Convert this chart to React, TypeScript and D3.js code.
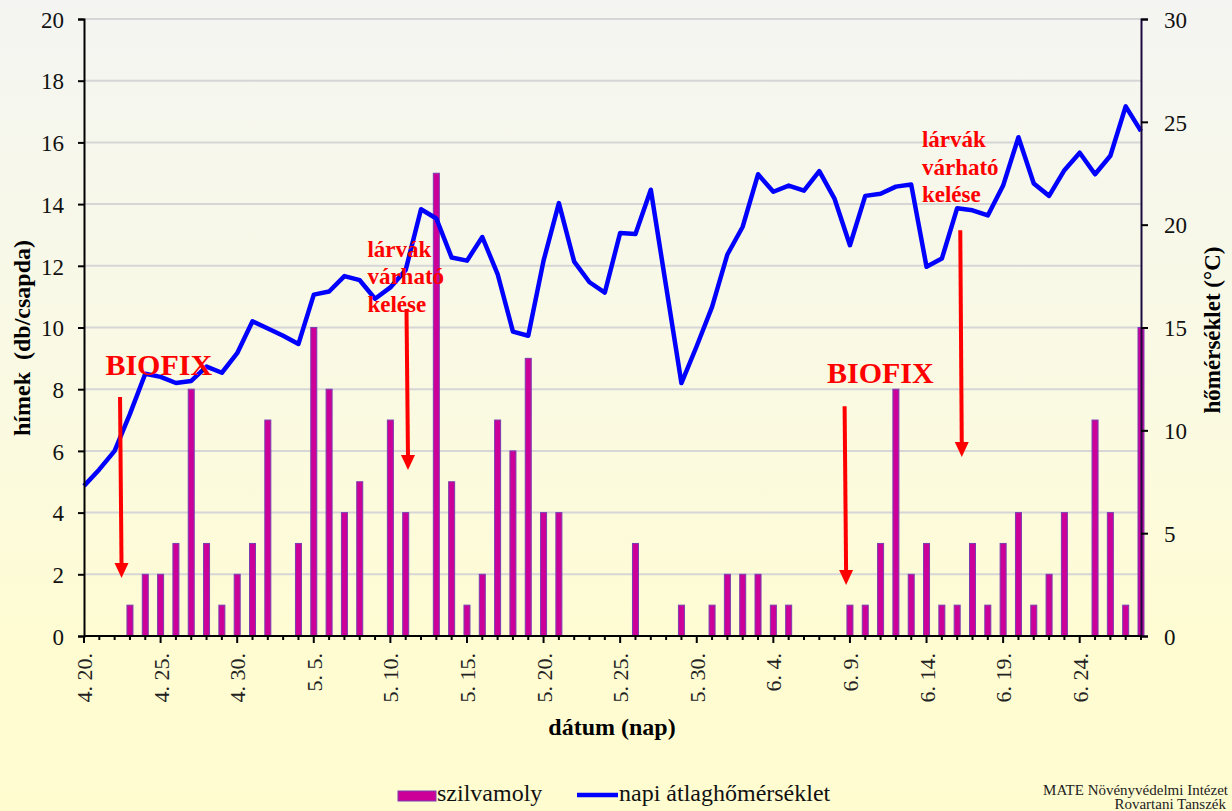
import React, { useEffect, useRef } from 'react';
import * as d3 from 'd3';

// daily male catches (db/csapda), 4.20. -> 6.28.
const catches = [
  0, 0, 0, 1, 2, 2, 3, 8, 3, 1, 2, 3, 7, 0, 3, 10, 8, 4, 5, 0,
  7, 4, 0, 15, 5, 1, 2, 7, 6, 9, 4, 4, 0, 0, 0, 0, 3, 0, 0, 1,
  0, 1, 2, 2, 2, 1, 1, 0, 0, 0, 1, 1, 3, 8, 2, 3, 1, 1, 3, 1,
  3, 4, 1, 2, 4, 0, 7, 4, 1, 10,
];

// napi átlaghőmérséklet (°C)
const temps = [
  7.3, 8.1, 9.0, 10.8, 12.75, 12.6, 12.3, 12.4, 13.1, 12.8, 13.75, 15.3, 14.95, 14.6, 14.2, 16.6, 16.75, 17.5, 17.3, 16.4,
  16.95, 17.8, 20.75, 20.3, 18.4, 18.25, 19.4, 17.6, 14.8, 14.6, 18.25, 21.05, 18.2, 17.2, 16.7, 19.6, 19.55, 21.7, 17.0, 12.3,
  14.1, 16.0, 18.55, 19.9, 22.45, 21.6, 21.9, 21.65, 22.6, 21.25, 19.0, 21.4, 21.5, 21.85, 21.95, 17.95, 18.35, 20.8, 20.7, 20.45,
  21.9, 24.25, 22.0, 21.4, 22.65, 23.5, 22.45, 23.35, 25.75, 24.55,
];

const monthStarts = [
  { month: 4, first: 20, last: 30 },
  { month: 5, first: 1, last: 31 },
  { month: 6, first: 1, last: 28 },
];
const days: string[] = [];
monthStarts.forEach(m => {
  for (let d = m.first; d <= m.last; d++) days.push(`${m.month}. ${d}.`);
});

const tickLabels = ['4. 20.', '4. 25.', '4. 30.', '5. 5.', '5. 10.', '5. 15.', '5. 20.', '5. 25.', '5. 30.', '6. 4.', '6. 9.', '6. 14.', '6. 19.', '6. 24.'];
const leftTicks = [0, 2, 4, 6, 8, 10, 12, 14, 16, 18, 20];
const rightTicks = [0, 5, 10, 15, 20, 25, 30];

// annotations: position by day index and catch value
const biofixNotes = [
  { text: 'BIOFIX', at: 1.4, y: 8.45, arrowAt: 2.45, from: 7.75, to: 1.88 },
  { text: 'BIOFIX', at: 48.5, y: 8.2, arrowAt: 49.75, from: 7.45, to: 1.65 },
];
const larvaNotes = [
  { lines: ['lárvák', 'várható', 'kelése'], at: 18.5, y: 12.3, arrowAt: 21.15, from: 10.6, to: 5.38 },
  { lines: ['lárvák', 'várható', 'kelése'], at: 54.7, y: 15.85, arrowAt: 57.3, from: 13.15, to: 5.8 },
];

const W = 1232, H = 811;
const serif = 'Liberation Serif, Times New Roman, DejaVu Serif, serif';

function App() {
  const ref = useRef<SVGSVGElement>(null);

  useEffect(() => {
    const svg = d3.select(ref.current);
    svg.selectAll('*').remove();

    const left = 84, right = 1141, top = 19, bottom = 636;

    const x = d3.scalePoint<string>().domain(days).range([left, right]);
    const xi = d3.scaleLinear().domain([0, days.length - 1]).range([left, right]);
    const yL = d3.scaleLinear().domain([0, 20]).range([bottom, top]);
    const yR = d3.scaleLinear().domain([0, 30]).range([bottom, top]);

    const defs = svg.append('defs');
    const grad = defs.append('linearGradient').attr('id', 'bg')
      .attr('x1', 0).attr('y1', 0).attr('x2', 0).attr('y2', 1);
    grad.append('stop').attr('offset', '0%').attr('stop-color', '#f4f5f2');
    grad.append('stop').attr('offset', '50%').attr('stop-color', '#fafae2');
    grad.append('stop').attr('offset', '80%').attr('stop-color', '#fffcd2');
    grad.append('stop').attr('offset', '100%').attr('stop-color', '#fffcd0');

    svg.append('rect').attr('width', W).attr('height', H).attr('fill', 'url(#bg)');

    // gridlines
    svg.append('g')
      .selectAll('line')
      .data(leftTicks.filter(t => t > 0))
      .join('line')
      .attr('x1', left).attr('x2', right)
      .attr('y1', d => yL(d)).attr('y2', d => yL(d))
      .attr('stroke', '#d6d6d6').attr('stroke-width', 2);

    // bars
    svg.append('g')
      .selectAll('rect')
      .data(catches.map((v, i) => ({ v, d: days[i] })).filter(o => o.v > 0))
      .join('rect')
      .attr('x', o => (x(o.d) as number) - 3)
      .attr('y', o => yL(o.v))
      .attr('width', 6)
      .attr('height', o => yL(0) - yL(o.v))
      .attr('fill', '#cc0099')
      .attr('stroke', '#7a3cb0')
      .attr('stroke-width', 1);

    // temperature line
    const line = d3.line<number>()
      .x((_, i) => x(days[i]) as number)
      .y(v => yR(v));
    svg.append('path')
      .datum(temps)
      .attr('d', line)
      .attr('fill', 'none')
      .attr('stroke', '#0000ff')
      .attr('stroke-width', 4.5)
      .attr('stroke-linejoin', 'round');

    // axes
    const leftAxis = svg.append('g')
      .attr('transform', `translate(${left},0)`)
      .call(d3.axisLeft(yL).tickValues(leftTicks).tickSize(6).tickPadding(14));
    const rightAxis = svg.append('g')
      .attr('transform', `translate(${right},0)`)
      .call(d3.axisRight(yR).tickValues(rightTicks).tickSize(7).tickPadding(16));
    [leftAxis, rightAxis].forEach(g => {
      g.attr('font-family', serif).attr('font-size', 23);
      g.select('.domain').attr('stroke', '#000').attr('stroke-width', 2);
      g.selectAll('.tick line').attr('stroke', '#000').attr('stroke-width', 2);
      g.selectAll('.tick text')
        .style('font-family', serif).attr('font-size', 23).attr('fill', '#111')
        .attr('dy', '0.36em');
    });
    rightAxis.select('.domain').attr('stroke', '#1a0a40');

    // x axis
    const xAxis = svg.append('g').attr('transform', `translate(0,${bottom})`);
    xAxis.append('line')
      .attr('x1', left).attr('x2', right)
      .attr('stroke', '#000').attr('stroke-width', 2);
    xAxis.selectAll('line.minor')
      .data(days)
      .join('line')
      .attr('class', 'minor')
      .attr('x1', d => x(d) as number).attr('x2', d => x(d) as number)
      .attr('y1', 0)
      .attr('y2', d => tickLabels.includes(d) ? 7 : 4)
      .attr('stroke', '#000').attr('stroke-width', 2);
    xAxis.selectAll('text')
      .data(tickLabels)
      .join('text')
      .attr('transform', d => `translate(${(x(d) as number) + 8},17) rotate(-90)`)
      .attr('text-anchor', 'end')
      .style('font-family', serif).attr('font-size', 22).attr('fill', '#222')
      .text(d => d);

    // titles
    svg.append('text')
      .attr('transform', 'translate(30,338) rotate(-90)')
      .attr('text-anchor', 'middle')
      .style('font-family', serif).attr('font-weight', 'bold').attr('font-size', 24)
      .style('white-space', 'pre')
      .text('hímek  (db/csapda)');
    svg.append('text')
      .attr('transform', 'translate(1220,330) rotate(-90)')
      .attr('text-anchor', 'middle')
      .style('font-family', serif).attr('font-weight', 'bold').attr('font-size', 23)
      .text('hőmérséklet (°C)');
    svg.append('text')
      .attr('x', 612).attr('y', 735)
      .attr('text-anchor', 'middle')
      .style('font-family', serif).attr('font-weight', 'bold').attr('font-size', 24)
      .text('dátum (nap)');

    // annotations
    const red = '#ff0000';
    const arrow = (g: any, ax: number, y0: number, y1: number) => {
      const px = xi(ax);
      const top0 = yL(y0), tip = yL(y1);
      g.append('line')
        .attr('x1', px - 1.5).attr('x2', px)
        .attr('y1', top0).attr('y2', tip - 12)
        .attr('stroke', red).attr('stroke-width', 4);
      g.append('path')
        .attr('d', `M${px - 7},${tip - 15} L${px + 7},${tip - 15} L${px},${tip} Z`)
        .attr('fill', red);
    };
    const ann = svg.append('g');
    biofixNotes.forEach(n => {
      ann.append('text')
        .attr('x', xi(n.at)).attr('y', yL(n.y))
        .style('font-family', serif).attr('font-weight', 'bold').attr('font-size', 30)
        .attr('fill', red)
        .text(n.text);
      arrow(ann, n.arrowAt, n.from, n.to);
    });
    larvaNotes.forEach(n => {
      const t = ann.append('text')
        .attr('x', xi(n.at)).attr('y', yL(n.y))
        .style('font-family', serif).attr('font-weight', 'bold').attr('font-size', 23)
        .attr('fill', red);
      n.lines.forEach((s, k) => {
        t.append('tspan').attr('x', xi(n.at)).attr('dy', k === 0 ? 0 : 27.5).text(s);
      });
      arrow(ann, n.arrowAt, n.from, n.to);
    });

    // legend
    const lg = svg.append('g').style('font-family', serif).attr('font-size', 24).attr('fill', '#111');
    lg.append('rect').attr('x', 398).attr('y', 791).attr('width', 38).attr('height', 10)
      .attr('fill', '#cc0099').attr('stroke', '#7a3cb0').attr('stroke-width', 1);
    lg.append('text').attr('x', 437).attr('y', 801).text('szilvamoly');
    lg.append('line').attr('x1', 577).attr('x2', 618).attr('y1', 795).attr('y2', 795)
      .attr('stroke', '#0000ff').attr('stroke-width', 4.5);
    lg.append('text').attr('x', 619).attr('y', 801).text('napi átlaghőmérséklet');

    // footer
    const ft = svg.append('g').style('font-family', serif).attr('font-size', 15).attr('fill', '#222')
      .attr('text-anchor', 'end');
    ft.append('text').attr('x', 1228).attr('y', 795).text('MATE Növényvédelmi Intézet');
    ft.append('text').attr('x', 1226).attr('y', 809).text('Rovartani Tanszék');
  }, []);

  return (
    <svg ref={ref} width={W} height={H} style={{ position: 'absolute', left: 0, top: 0 }} />
  );
}

export default App;
